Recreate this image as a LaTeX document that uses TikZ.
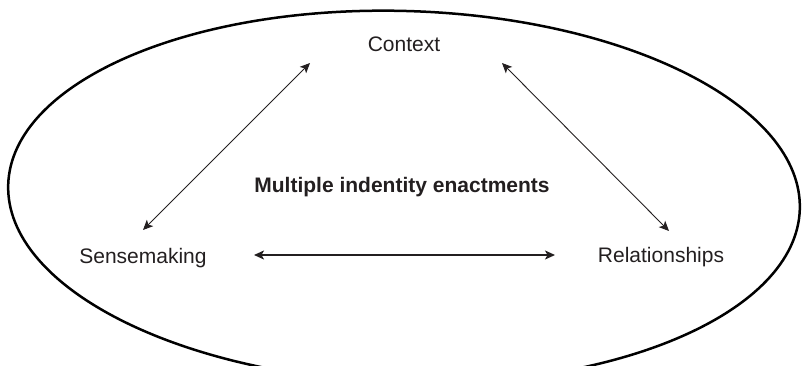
\documentclass[tikz,border=0pt]{standalone}
\usepackage{fontspec}
\setmainfont{Liberation Sans}
\usetikzlibrary{arrows.meta}
\definecolor{ink}{RGB}{35,31,32}
\tikzset{
  label/.style={font=\fontsize{21}{25}\selectfont, text=ink, inner sep=0pt, anchor=base},
  biarrow/.style={draw=ink, {Stealth[length=10pt,width=9pt,inset=2.5pt]}-{Stealth[length=10pt,width=9pt,inset=2.5pt]}},
  thinlink/.style={biarrow, line width=0.9pt},
  thicklink/.style={biarrow, line width=1.5pt},
  outline/.style={draw=black, line width=2.5pt}
}
\begin{document}
\begin{tikzpicture}[x=1pt,y=1pt]
\useasboundingbox (0,0) rectangle (802,365);
\clip (0,0) rectangle (802,365);
\draw[outline, rotate around={-1.8:(404,168)}] (404,168) ellipse [x radius=396, y radius=186];
\node[label] (ctx) at (404,313) {Context};
\node[label] (sense) at (143,102) {Sensemaking};
\node[label] (rel) at (661,103) {Relationships};
\node[label, font=\fontsize{21}{25}\selectfont\bfseries] (multi) at (402,173) {Multiple indentity enactments};
\coordinate (sensetop) at (143,135);
\coordinate (ctxleft) at (310,302);
\coordinate (ctxright) at (502,302);
\coordinate (reltop) at (669,134);
\coordinate (senseright) at (254,110);
\coordinate (relleft) at (555,110);
\draw[thinlink] (sensetop) -- (ctxleft);
\draw[thinlink] (ctxright) -- (reltop);
\draw[thicklink] (senseright) -- (relleft);
\end{tikzpicture}
\end{document}
